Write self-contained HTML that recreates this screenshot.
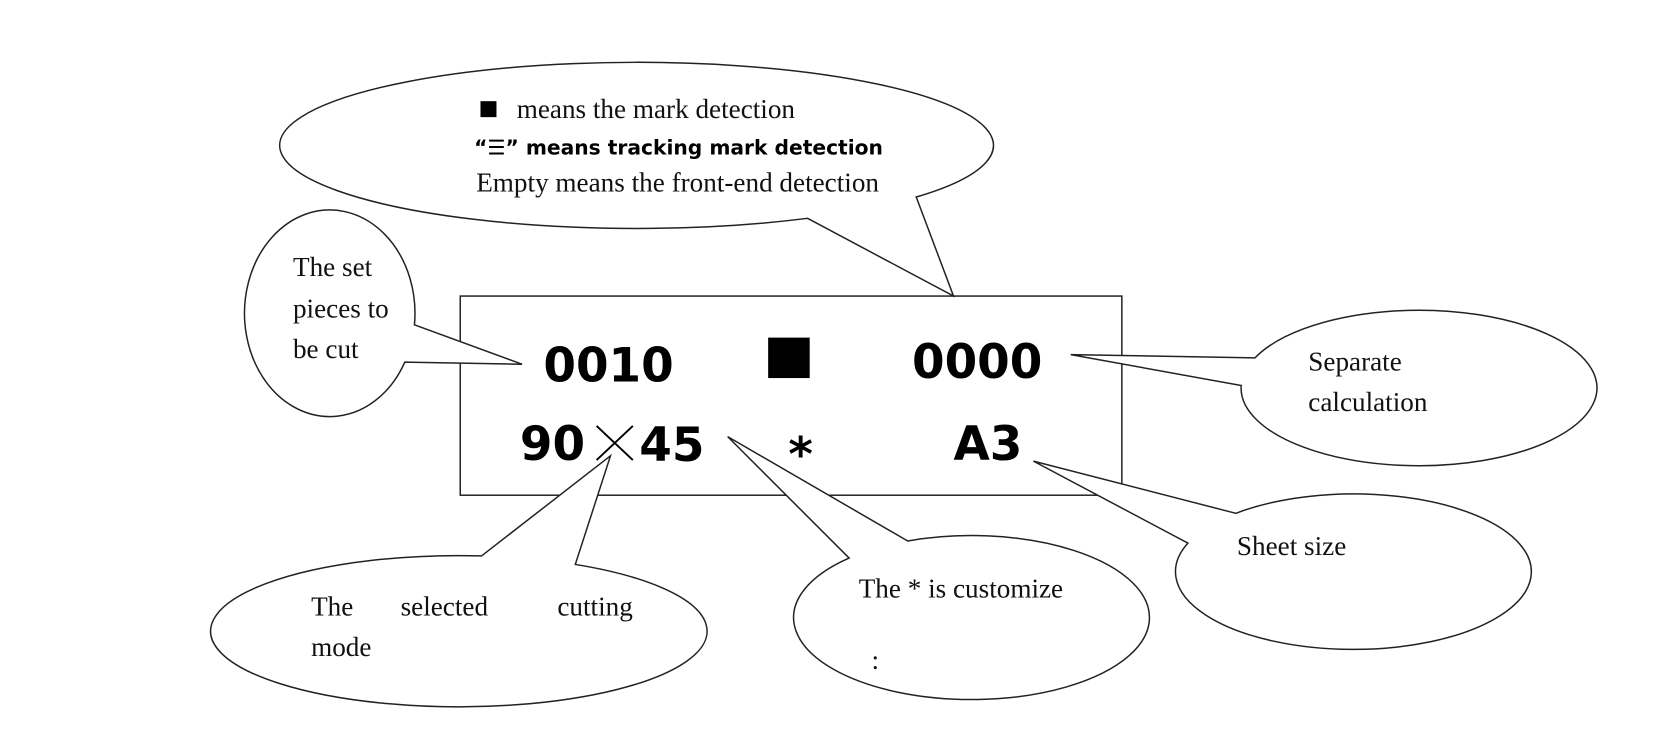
<!DOCTYPE html>
<html><head><meta charset="utf-8"><style>
html,body{margin:0;padding:0;background:#fff;width:1662px;height:754px;overflow:hidden}
svg{display:block}
.s{font-family:"Liberation Serif",serif;font-size:25.5px;fill:#111}
.b{font-family:"DejaVu Sans","Liberation Sans",sans-serif;font-weight:bold;fill:#000}
</style></head><body>
<svg width="1662" height="754" viewBox="0 0 1560 708" preserveAspectRatio="none" xmlns="http://www.w3.org/2000/svg">
<g fill="#fff" stroke="#222" stroke-width="1.4">
<rect x="432" y="278" width="621" height="187"/>
<path d="M758,205 L895,278 L860,185 A335,78 0 1 0 758,205 Z"/>
<path d="M389,305 L490,342 L380,340 A80,97 0 1 1 389,305 Z"/>
<path d="M1178,336 L1005,333 L1165,362 A167,73 0 1 0 1178,336 Z"/>
<path d="M1160,482 L970,433 L1115,510 A167,73 0 1 0 1160,482 Z"/>
<path d="M797,524 L683,410 L852,508 A167,77 0 1 1 797,524 Z"/>
<path d="M452,522 L573,428 L540,530 A233,71 0 1 1 452,522 Z"/>
</g>
<rect x="451" y="95" width="15" height="15" fill="#000"/>
<text class="s" x="485" y="111">means the mark detection</text>
<text class="b" x="445" y="145" font-size="19">“☰”  means tracking mark detection</text>
<text class="s" x="447" y="180">Empty means the front-end detection</text>
<text class="s" x="275" y="259">The set</text>
<text class="s" x="275" y="298">pieces to</text>
<text class="s" x="275" y="336">be cut</text>
<text class="b" x="510" y="358" font-size="44">0010</text>
<rect x="721" y="317" width="39" height="38" fill="#000"/>
<text class="b" x="856" y="355" font-size="44">0000</text>
<text class="b" x="488" y="432" font-size="44">90</text>
<path d="M560,400 L594,432 M594,400 L560,432" stroke="#000" stroke-width="1.8"/>
<text class="b" x="600" y="433" font-size="44">45</text>
<text class="b" x="740" y="442" font-size="44">*</text>
<text class="b" x="895" y="432" font-size="44">A3</text>
<text class="s" x="1228" y="348">Separate</text>
<text class="s" x="1228" y="386">calculation</text>
<text class="s" x="1161" y="521">Sheet size</text>
<text class="s" x="806" y="561">The * is customize</text>
<text class="s" x="818" y="628" font-size="10">:</text>
<text class="s" x="292" y="578" font-size="27">The</text>
<text class="s" x="376" y="578" font-size="27">selected</text>
<text class="s" x="594" y="578" font-size="27" text-anchor="end">cutting</text>
<text class="s" x="292" y="616" font-size="27">mode</text>
</svg>
</body></html>
